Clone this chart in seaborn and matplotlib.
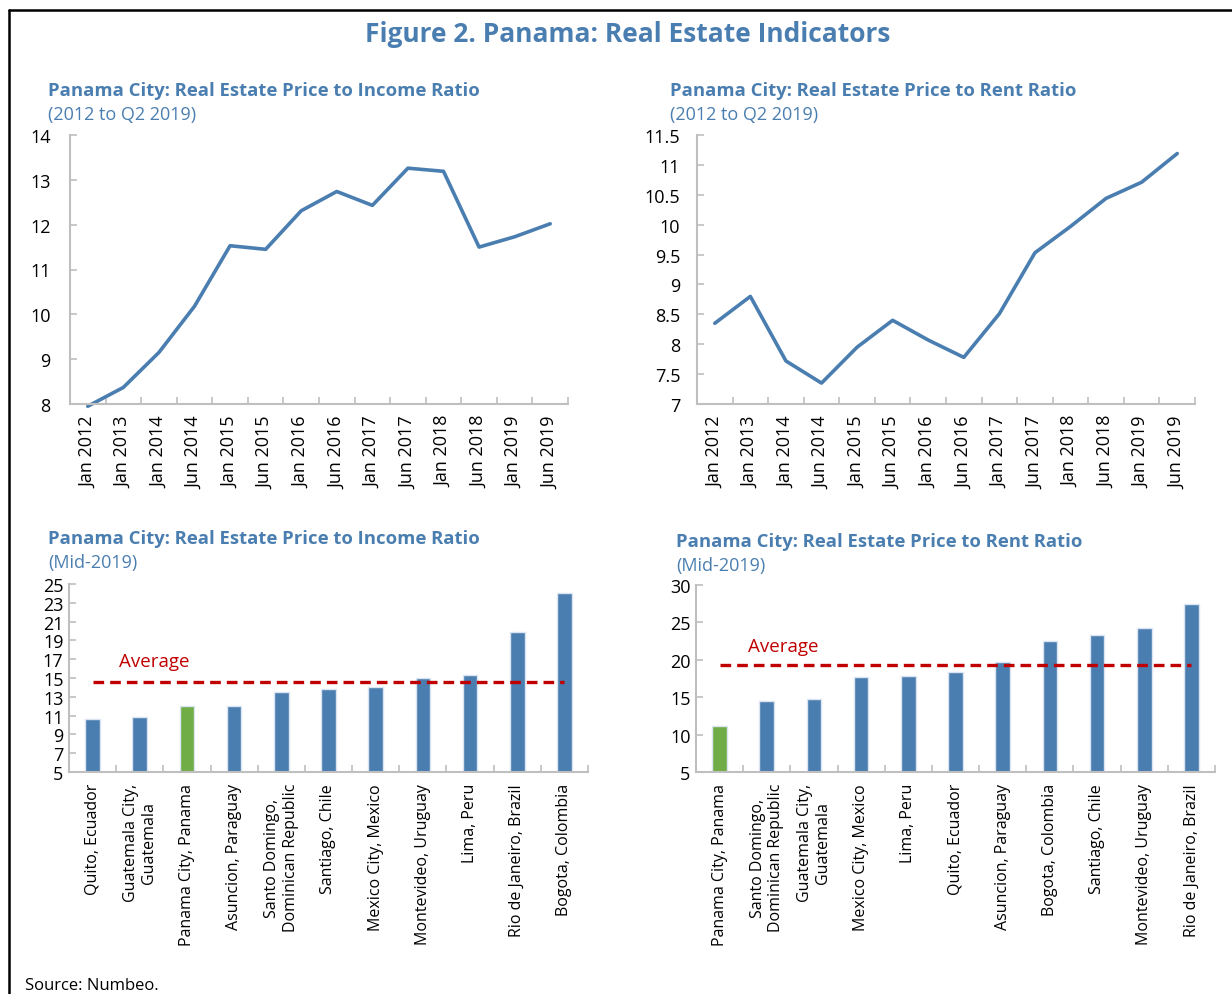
import numpy as np
import pandas as pd
import matplotlib
matplotlib.use("Agg")
import matplotlib.pyplot as plt
from matplotlib.lines import Line2D
from matplotlib.ticker import FuncFormatter
import seaborn as sns

# ---- data ----
dates = ["Jan 2012", "Jan 2013", "Jan 2014", "Jun 2014", "Jan 2015", "Jun 2015",
         "Jan 2016", "Jun 2016", "Jan 2017", "Jun 2017", "Jan 2018", "Jun 2018",
         "Jan 2019", "Jun 2019"]
price_income = [7.95, 8.37, 9.15, 10.18, 11.53, 11.45, 12.31, 12.74, 12.43,
                13.26, 13.19, 11.50, 11.73, 12.02]
price_rent = [8.35, 8.80, 7.72, 7.35, 7.95, 8.40, 8.07, 7.78, 8.51, 9.53,
              9.97, 10.44, 10.71, 11.19]

income_cities = ["Quito, Ecuador", "Guatemala City,\nGuatemala", "Panama City, Panama",
                 "Asuncion, Paraguay", "Santo Domingo,\nDominican Republic",
                 "Santiago, Chile", "Mexico City, Mexico", "Montevideo, Uruguay",
                 "Lima, Peru", "Rio de Janeiro, Brazil", "Bogota, Colombia"]
income_values = [10.6, 10.8, 12.07, 12.03, 13.5, 13.85, 14.06, 14.95, 15.3, 19.85, 24.0]
income_avg = 14.6

rent_cities = ["Panama City, Panama", "Santo Domingo,\nDominican Republic",
               "Guatemala City,\nGuatemala", "Mexico City, Mexico", "Lima, Peru",
               "Quito, Ecuador", "Asuncion, Paraguay", "Bogota, Colombia",
               "Santiago, Chile", "Montevideo, Uruguay", "Rio de Janeiro, Brazil"]
rent_values = [11.2, 14.5, 14.75, 17.7, 17.9, 18.35, 19.75, 22.5, 23.35, 24.3, 27.45]
rent_avg = 19.35

BLUE = "#4a7eb0"
GREEN = "#70ad47"
RED = "#c00000"
GRAY = "#bfbfbf"

sns.set_theme(style="white")
plt.rcParams['font.family'] = ['Open Sans', 'DejaVu Sans']

W, H = 1232, 995
fig = plt.figure(figsize=(W / 100, H / 100), dpi=100)


def px_axes(l, t, r, b):
    return fig.add_axes([l / W, 1 - b / H, (r - l) / W, (b - t) / H])


def style_axes(ax, n, ypad, xsize):
    for s in ["top", "right"]:
        ax.spines[s].set_visible(False)
    for s in ["left", "bottom"]:
        ax.spines[s].set_color(GRAY)
        ax.spines[s].set_linewidth(1.5)
    ax.set_xlim(-0.5, n - 0.5)
    ax.set_xticks(np.arange(-0.5, n, 1.0), minor=True)
    ax.tick_params(axis="x", which="minor", direction="in", length=5,
                   width=1.2, color=GRAY, bottom=True)
    ax.tick_params(axis="x", which="major", length=0, pad=8, labelsize=xsize,
                   labelrotation=90, labelcolor="black")
    ax.tick_params(axis="y", which="major", direction="in", length=5, width=1.2,
                   color=GRAY, left=True, labelsize=13, labelcolor="black", pad=ypad)
    ax.set_xlabel("")
    ax.set_ylabel("")
    ax.grid(False)


# ---- figure title and frame ----
fig.text(628 / W, 1 - 35 / H, "Figure 2. Panama: Real Estate Indicators",
         ha="center", va="center", fontsize=19, fontweight="bold", color=BLUE)
fig.add_artist(Line2D([9 / W, 9 / W], [0, 1 - 11 / H], color="black", lw=1.8))
fig.add_artist(Line2D([9 / W, 1], [1 - 11 / H, 1 - 11 / H], color="black", lw=1.8))
fig.text(25 / W, 1 - 986 / H, "Source: Numbeo.", ha="left", va="center",
         fontsize=12, color="black")


def panel_title(x, y, title, sub, size):
    fig.text(x / W, 1 - y / H, title, ha="left", va="center", fontsize=size,
             fontweight="bold", color=BLUE)
    fig.text(x / W, 1 - (y + 24) / H, sub, ha="left", va="center",
             fontsize=13, color=BLUE)


# ---- top left: price to income over time ----
ax1 = px_axes(70, 136, 568, 405)
sns.lineplot(x=np.arange(len(dates)), y=price_income, ax=ax1, color=BLUE, linewidth=2.6)
for ln in ax1.lines:
    ln.set_clip_on(False)
ax1.set_ylim(8, 14)
ax1.set_yticks(np.arange(8, 15, 1))
ax1.set_xticks(np.arange(len(dates)))
ax1.set_xticklabels(dates)
style_axes(ax1, len(dates), 14, 13)
panel_title(48, 91, "Panama City: Real Estate Price to Income Ratio", "(2012 to Q2 2019)", 13.3)

# ---- top right: price to rent over time ----
ax2 = px_axes(697, 136, 1195, 405)
sns.lineplot(x=np.arange(len(dates)), y=price_rent, ax=ax2, color=BLUE, linewidth=2.6)
ax2.set_ylim(7, 11.5)
ax2.set_yticks(np.arange(7, 11.6, 0.5))
ax2.yaxis.set_major_formatter(FuncFormatter(lambda v, p: f"{v:g}"))
ax2.set_xticks(np.arange(len(dates)))
ax2.set_xticklabels(dates)
style_axes(ax2, len(dates), 12, 13)
panel_title(670, 91, "Panama City: Real Estate Price to Rent Ratio", "(2012 to Q2 2019)", 13.3)


def bar_panel(ax, cities, values, avg, yticks, avg_text_xy):
    colors = [GREEN if c.startswith("Panama") else BLUE for c in cities]
    df = pd.DataFrame({"city": cities, "value": values})
    sns.barplot(data=df, x="city", y="value", hue="city", palette=colors,
                legend=False, width=0.31, ax=ax, edgecolor="#dbe5f1",
                linewidth=1.0, saturation=1)
    ax.plot([0, len(cities) - 1], [avg, avg], color=RED, lw=2.4,
            linestyle=(0, (3.2, 1.8)), zorder=5)
    ax.text(avg_text_xy[0], avg_text_xy[1], "Average", color=RED, fontsize=13.5,
            ha="left", va="center")
    ax.set_ylim(yticks[0], yticks[-1])
    ax.set_yticks(yticks)
    style_axes(ax, len(cities), 4, 11.5)
    for lbl in ax.get_xticklabels():
        lbl.set_multialignment("center")


# ---- bottom left: price to income by city ----
ax3 = px_axes(69, 585, 588, 773)
bar_panel(ax3, income_cities, income_values, income_avg,
          np.arange(5, 26, 2), (0.55, 16.8))
panel_title(48, 539, "Panama City: Real Estate Price to Income Ratio", "(Mid-2019)", 13.3)

# ---- bottom right: price to rent by city ----
ax4 = px_axes(696, 586, 1215, 773)
bar_panel(ax4, rent_cities, rent_values, rent_avg,
          np.arange(5, 31, 5), (0.6, 21.8))
panel_title(676, 542, "Panama City: Real Estate Price to Rent Ratio", "(Mid-2019)", 13.3)

fig.savefig("out.png", dpi=100)
